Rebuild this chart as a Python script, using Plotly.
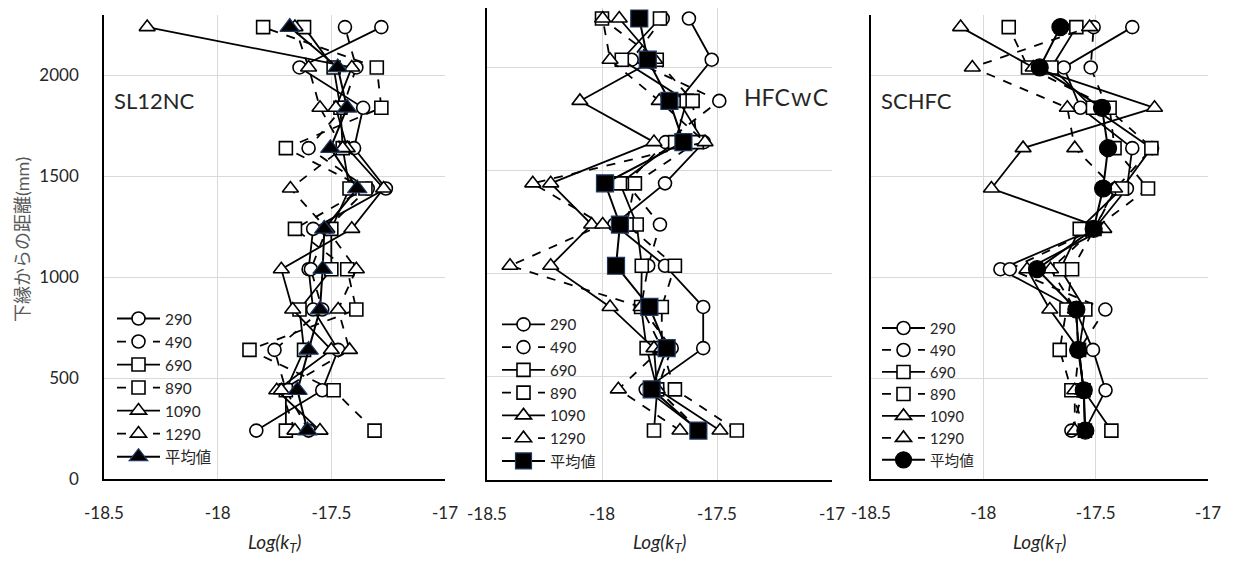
import plotly.graph_objects as go

# page body has an 8px margin: build the figure in window pixel terms, then offset
OFF = 8
FW, FH = 1234 - 2 * OFF, 565 - 2 * OFF


def fx(px):
    return (px - OFF) / FW


def fy(py):
    return 1 - (py - OFF) / FH


heights = [240, 440, 640, 840, 1040, 1240, 1440, 1640, 1840, 2040, 2240]
series_names = ["290", "490", "690", "890", "1090", "1290"]
avg_name = "平均値"
x_ticks = [-18.5, -18, -17.5, -17]
x_tick_text = ["-18.5", "-18", "-17.5", "-17"]
y_ticks = [0, 500, 1000, 1500, 2000]
y_tick_text = ["0", "500", "1000", "1500", "2000"]
panel_titles = ["SL12NC", "HFCｗC", "SCHFC"]

# ---- SL12NC ----
sl_290 = [-17.83, -17.54, -17.47, -17.58, -17.60, -17.58, -17.26, -17.40, -17.36, -17.64, -17.28]
sl_490 = [-17.60, -17.70, -17.75, -17.54, -17.59, -17.52, -17.34, -17.60, -17.45, -17.39, -17.44]
sl_690 = [-17.70, -17.70, -17.62, -17.64, -17.50, -17.50, -17.42, -17.45, -17.46, -17.49, -17.62]
sl_890 = [-17.31, -17.49, -17.86, -17.39, -17.43, -17.66, -17.35, -17.70, -17.28, -17.30, -17.80]
sl_1090 = [-17.55, -17.74, -17.50, -17.67, -17.72, -17.41, -17.27, -17.43, -17.48, -17.41, -18.31]
sl_1290 = [-17.66, -17.72, -17.42, -17.47, -17.39, -17.52, -17.68, -17.45, -17.55, -17.60, -17.66]
sl_avg = [-17.605, -17.649, -17.60, -17.55, -17.538, -17.531, -17.386, -17.504, -17.431, -17.472, -17.683]

# ---- HFCwC ----
hf_290 = [-17.575, -17.81, -17.56, -17.56, -17.726, -17.946, -17.726, -17.557, -17.667, -17.523, -17.622]
hf_490 = [-17.575, -17.76, -17.697, -17.83, -17.799, -17.748, -17.893, -17.723, -17.49, -17.871, -17.736]
hf_690 = [-17.774, -17.76, -17.806, -17.83, -17.827, -17.849, -17.922, -17.682, -17.632, -17.914, -17.748]
hf_890 = [-17.414, -17.683, -17.74, -17.74, -17.683, -17.893, -17.857, -17.588, -17.606, -17.762, -18.0]
hf_1090 = [-17.487, -17.76, -17.774, -17.965, -18.223, -18.045, -18.223, -17.774, -18.096, -17.771, -17.925]
hf_1290 = [-17.661, -17.929, -17.74, -17.83, -18.40, -17.997, -18.301, -17.552, -17.751, -17.965, -17.997]
hf_avg = [-17.581, -17.784, -17.719, -17.794, -17.939, -17.922, -17.987, -17.646, -17.707, -17.801, -17.838]

# ---- SCHFC ----
sc_290 = [-17.548, -17.456, -17.512, -17.59, -17.924, -17.505, -17.361, -17.337, -17.568, -17.642, -17.337]
sc_490 = [-17.608, -17.554, -17.574, -17.457, -17.882, -17.505, -17.411, -17.249, -17.45, -17.522, -17.509]
sc_690 = [-17.43, -17.554, -17.574, -17.546, -17.657, -17.571, -17.383, -17.252, -17.512, -17.697, -17.586]
sc_890 = [-17.548, -17.608, -17.66, -17.63, -17.605, -17.505, -17.267, -17.416, -17.438, -17.801, -17.887]
sc_1090 = [-17.548, -17.554, -17.574, -17.704, -17.805, -17.464, -17.964, -17.823, -17.238, -17.778, -18.101]
sc_1290 = [-17.593, -17.593, -17.574, -17.59, -17.701, -17.505, -17.416, -17.593, -17.626, -18.049, -17.527]
sc_avg = [-17.546, -17.553, -17.578, -17.586, -17.761, -17.509, -17.467, -17.445, -17.472, -17.749, -17.657]

panels_data = [
    [sl_290, sl_490, sl_690, sl_890, sl_1090, sl_1290, sl_avg],
    [hf_290, hf_490, hf_690, hf_890, hf_1090, hf_1290, hf_avg],
    [sc_290, sc_490, sc_690, sc_890, sc_1090, sc_1290, sc_avg],
]

# layout geometry (window pixels)
boxes = [
    dict(x0=104, x1=445, y0=15, y1=479, ymax=2300, leg_x=112, leg_y=302, leg_fs=15.4),
    dict(x0=487, x1=832, y0=8, y1=480, ymax=2291, leg_x=497, leg_y=308, leg_fs=15.2),
    dict(x0=871, x1=1208, y0=15, y1=479, ymax=2300, leg_x=877, leg_y=312, leg_fs=14.6),
]
avg_symbols = ["triangle-up", "square", "circle"]

styles = [
    ("circle", "solid"), ("circle", "dash"),
    ("square", "solid"), ("square", "dash"),
    ("triangle-up", "solid"), ("triangle-up", "dash"),
]

FONT = "Lato, 'Noto Sans CJK JP', sans-serif"
fig = go.Figure()

for p, data in enumerate(panels_data):
    ax = "" if p == 0 else str(p + 1)
    leg = "legend" if p == 0 else f"legend{p + 1}"
    for i, name in enumerate(series_names):
        sym, dash = styles[i]
        fig.add_trace(go.Scatter(
            x=data[i], y=heights, name=name, mode="lines+markers",
            xaxis="x" + ax, yaxis="y" + ax, legend=leg,
            line=dict(color="black", width=1.8, dash=dash),
            marker=dict(symbol=sym, size=13 if sym != "triangle-up" else 14,
                        color="white", line=dict(color="black", width=1.6)),
        ))
    fig.add_trace(go.Scatter(
        x=data[6], y=heights, name=avg_name, mode="lines+markers",
        xaxis="x" + ax, yaxis="y" + ax, legend=leg,
        line=dict(color="black", width=2),
        marker=dict(symbol=avg_symbols[p], size=17, color="black",
                    line=dict(color="#1f3864" if p < 2 else "black", width=1.2)),
    ))

layout = dict(
    width=FW, height=FH, margin=dict(l=0, r=0, t=0, b=0, autoexpand=False),
    paper_bgcolor="white", plot_bgcolor="white",
    font=dict(family=FONT, size=17, color="#262626"),
    showlegend=True,
)

annotations = []
for p, b in enumerate(boxes):
    ax = "" if p == 0 else str(p + 1)
    layout["xaxis" + ax] = dict(
        domain=[fx(b["x0"]), fx(b["x1"])], range=[-18.5, -17],
        anchor="y" + ax, tickvals=x_ticks, ticktext=x_tick_text,
        showgrid=True, gridcolor="#d9d9d9", gridwidth=1.3,
        showline=True, linecolor="black", linewidth=1.6,
        zeroline=False, ticks="", ticklabelstandoff=18, automargin=False,
        tickfont=dict(size=17, color="#262626"),
    )
    layout["yaxis" + ax] = dict(
        domain=[fy(b["y1"]), fy(b["y0"])], range=[0, b["ymax"]],
        anchor="x" + ax, tickvals=y_ticks, ticktext=y_tick_text,
        showticklabels=(p == 0), showgrid=True, gridcolor="#d9d9d9", gridwidth=1.3,
        showline=True, linecolor="black", linewidth=1.6,
        zeroline=False, ticks="", ticklabelstandoff=20, automargin=False,
        tickfont=dict(size=17, color="#262626"),
    )
    leg = "legend" if p == 0 else f"legend{p + 1}"
    layout[leg] = dict(
        x=fx(b["leg_x"]), y=fy(b["leg_y"]), xanchor="left", yanchor="top",
        bgcolor="rgba(0,0,0,0)", font=dict(size=b["leg_fs"], color="#262626", family=FONT),
        itemsizing="trace", tracegroupgap=0, itemwidth=43, borderwidth=0,
    )
    annotations.append(dict(
        text="<i>Log(k<sub>T</sub>)</i>", xref="paper", yref="paper",
        x=fx((b["x0"] + b["x1"]) / 2), y=fy(543), showarrow=False,
        font=dict(size=19, color="#262626"), xanchor="center", yanchor="middle",
    ))

annotations += [
    dict(text=panel_titles[0], xref="paper", yref="paper", x=fx(112), y=fy(100),
         xanchor="left", yanchor="middle", showarrow=False, font=dict(size=22, color="#262626")),
    dict(text=panel_titles[1], xref="paper", yref="paper", x=fx(830), y=fy(97),
         xanchor="right", yanchor="middle", showarrow=False, font=dict(size=23, color="#262626")),
    dict(text=panel_titles[2], xref="paper", yref="paper", x=fx(879), y=fy(100),
         xanchor="left", yanchor="middle", showarrow=False, font=dict(size=22, color="#262626")),
    dict(text="下縁からの距離(mm)", xref="paper", yref="paper", x=fx(22), y=fy(240),
         textangle=-90, xanchor="center", yanchor="middle", showarrow=False,
         font=dict(size=18, color="#595959")),
]
layout["annotations"] = annotations

fig.update_layout(**layout)
fig.write_html("out.html")
